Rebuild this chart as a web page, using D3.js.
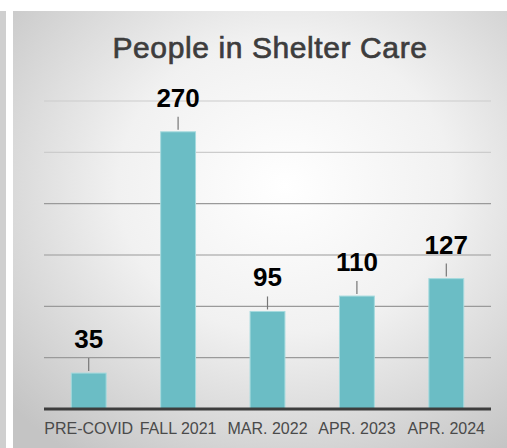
<!DOCTYPE html>
<html>
<head>
<meta charset="utf-8">
<script src="https://cdn.jsdelivr.net/npm/d3@7"></script>
<style>
  body { margin: 0; background: #fff; }
  svg { display: block; }
</style>
</head>
<body>
<div id="chart"></div>
<script>
// chart data
const categories = ['PRE-COVID', 'FALL 2021', 'MAR. 2022', 'APR. 2023', 'APR. 2024'];
const values = [35, 270, 95, 110, 127];
const gridTicks = [0, 50, 100, 150, 200, 250, 300];

var width = 507, height = 448;
var margin = {top: 101, right: 16, bottom: 39, left: 44};

var svg = d3.select("#chart")
    .append("svg")
    .attr("width", width)
    .attr("height", height);

var defs = svg.append("defs");
var grad = defs.append("radialGradient")
    .attr("id", "bg")
    .attr("cx", "55%").attr("cy", "40%").attr("r", "75%");
grad.append("stop").attr("offset", "0%").attr("stop-color", "#ffffff");
grad.append("stop").attr("offset", "45%").attr("stop-color", "#f1f1f1");
grad.append("stop").attr("offset", "100%").attr("stop-color", "#c4c4c4");

// left strip of the neighbouring panel
svg.append("rect")
    .attr("x", 0).attr("y", 11).attr("width", 6).attr("height", height - 11)
    .style("fill", "#cfcfcf");

// main panel
svg.append("rect")
    .attr("x", 13).attr("y", 11).attr("width", width - 13).attr("height", height - 11)
    .style("fill", "url(#bg)");

var x = d3.scaleBand()
    .domain(categories)
    .range([margin.left, width - margin.right])
    .paddingInner(0.61)
    .paddingOuter(0.305);

var y = d3.scaleLinear()
    .domain([0, 300])
    .range([height - margin.bottom, margin.top]);

// gridlines
svg.append("g")
    .selectAll("line")
    .data(gridTicks.slice(1))
    .enter()
    .append("line")
    .attr("x1", margin.left)
    .attr("x2", width - margin.right)
    .attr("y1", (d) => y(d))
    .attr("y2", (d) => y(d))
    .style("stroke", (d, i) => i < 4 ? "#9a9a9a" : "#cccccc")
    .style("stroke-width", 1.2);

// bars
svg.append("g")
    .selectAll("rect")
    .data(values)
    .enter()
    .append("rect")
    .attr("x", (d, i) => x(categories[i]))
    .attr("y", (d) => y(d))
    .attr("width", x.bandwidth())
    .attr("height", (d) => y(0) - y(d))
    .style("fill", "#6bbdc5")
    .style("stroke", "#a6dade")
    .style("stroke-width", 1);

const labelGap = 25;

// leader lines
svg.append("g")
    .selectAll("line")
    .data(values)
    .enter()
    .append("line")
    .attr("x1", (d, i) => x(categories[i]) + x.bandwidth() / 2)
    .attr("x2", (d, i) => x(categories[i]) + x.bandwidth() / 2)
    .attr("y1", (d) => y(d) - labelGap + 10)
    .attr("y2", (d) => y(d) - 2)
    .style("stroke", "#777")
    .style("stroke-width", 1.2);

// value labels
svg.append("g")
    .selectAll("text")
    .data(values)
    .enter()
    .append("text")
    .attr("x", (d, i) => x(categories[i]) + x.bandwidth() / 2)
    .attr("y", (d) => y(d) - labelGap)
    .attr("text-anchor", "middle")
    .style("font-family", "'Liberation Sans', Arial, sans-serif")
    .style("font-weight", "bold")
    .style("font-size", "26px")
    .style("fill", "#000")
    .text((d) => d);

// baseline
svg.append("line")
    .attr("x1", margin.left)
    .attr("x2", width - margin.right)
    .attr("y1", y(0))
    .attr("y2", y(0))
    .style("stroke", "#3d3d3d")
    .style("stroke-width", 3);

// x axis labels
var xAxis = svg.append("g")
    .attr("transform", "translate(0," + y(0) + ")")
    .call(d3.axisBottom(x).tickSize(0).tickPadding(14));
xAxis.select(".domain").remove();
xAxis.selectAll("text")
    .style("font-family", "'Liberation Sans', Arial, sans-serif")
    .style("font-size", "16px")
    .style("fill", "#4a4a4a");

// title
svg.append("text")
    .attr("x", 270)
    .attr("y", 58)
    .attr("text-anchor", "middle")
    .style("font-family", "'Liberation Sans', Arial, sans-serif")
    .style("font-size", "30px")
    .style("letter-spacing", "0.6px")
    .style("fill", "#3d3d3d")
    .style("stroke", "#3d3d3d")
    .style("stroke-width", 0.7)
    .text("People in Shelter Care");
</script>
</body>
</html>
